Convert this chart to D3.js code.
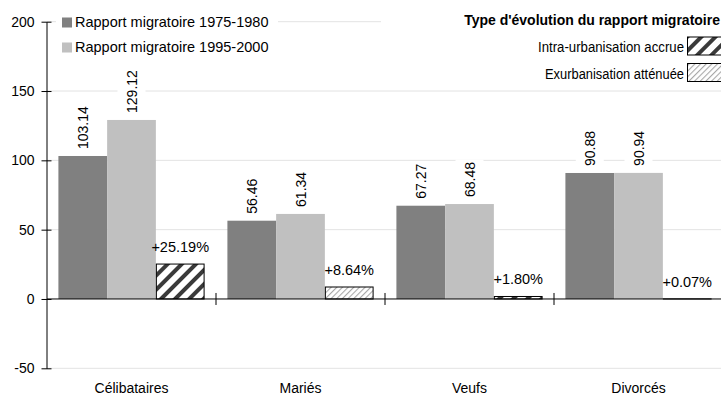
<!DOCTYPE html>
<html>
<head>
<meta charset="utf-8">
<script src="https://cdn.jsdelivr.net/npm/d3@7/dist/d3.min.js"></script>
<style>
  html, body { margin: 0; padding: 0; background: #fff; }
  svg { display: block; font-family: "Liberation Sans", Arial, sans-serif; }
</style>
</head>
<body>
<svg id="chart" width="721" height="396"></svg>
<script>
// Marital status groups
const categories = ["Célibataires", "Mariés", "Veufs", "Divorcés"];
// Migration ratio per period
const ratio1975 = [103.14, 56.46, 67.27, 90.88];
const ratio1995 = [129.12, 61.34, 68.48, 90.94];
// Change between the two periods (%)
const evolution = [25.19, 8.64, 1.80, 0.07];
// Type of change for each group
const evolutionType = ["accrue", "attenuee", "accrue", "attenuee"];
const evolutionTypeLabels = ["Intra-urbanisation accrue", "Exurbanisation atténuée"];
const seriesLabels = ["Rapport migratoire 1975-1980", "Rapport migratoire 1995-2000"];
const yTicks = [-50, 0, 50, 100, 150, 200];

const svg = d3.select("#chart");
const W = 721;
const plotLeft = 47, plotRight = 723;

const y = d3.scaleLinear().domain([-50, 200]).range([368.3, 21.7]);
const x = d3.scaleBand().domain(categories).range([plotLeft, plotRight]);
const xs = d3.scaleBand().domain(["s1", "s2", "ev"]).range([0, x.bandwidth()])
  .paddingInner(0).paddingOuter(0.234);

const DARK = "#808080", LIGHT = "#c0c0c0";

// hatch patterns
const defs = svg.append("defs");
const pA = defs.append("pattern").attr("id", "hatchA")
  .attr("patternUnits", "userSpaceOnUse").attr("width", 10).attr("height", 10)
  .attr("patternTransform", "rotate(45)");
pA.append("rect").attr("width", 10).attr("height", 10).attr("fill", "#fff");
pA.append("rect").attr("x", 0).attr("width", 4).attr("height", 10).attr("fill", "#3a3a3a");
const pB = defs.append("pattern").attr("id", "hatchB")
  .attr("patternUnits", "userSpaceOnUse").attr("width", 4).attr("height", 4)
  .attr("patternTransform", "rotate(45)");
pB.append("rect").attr("width", 4).attr("height", 4).attr("fill", "#fff");
pB.append("rect").attr("x", 0).attr("width", 1.1).attr("height", 4).attr("fill", "#a8a8a8");
const fillFor = t => t === "accrue" ? "url(#hatchA)" : "url(#hatchB)";

// gridlines
svg.append("g").selectAll("line").data(yTicks.filter(v => v !== 0)).join("line")
  .attr("x1", plotLeft).attr("x2", W)
  .attr("y1", d => y(d)).attr("y2", d => y(d))
  .attr("stroke", "#e3e3e3").attr("stroke-width", 1);

// bars
const groups = svg.append("g").selectAll("g").data(categories).join("g")
  .attr("transform", d => `translate(${x(d)},0)`);

groups.append("rect")
  .attr("x", xs("s1")).attr("width", xs.bandwidth())
  .attr("y", (d, i) => y(ratio1975[i])).attr("height", (d, i) => y(0) - y(ratio1975[i]))
  .attr("fill", DARK);
groups.append("rect")
  .attr("x", xs("s2")).attr("width", xs.bandwidth())
  .attr("y", (d, i) => y(ratio1995[i])).attr("height", (d, i) => y(0) - y(ratio1995[i]))
  .attr("fill", LIGHT);
groups.append("rect")
  .attr("x", xs("ev") + 0.5).attr("width", xs.bandwidth() - 1)
  .attr("y", (d, i) => y(evolution[i])).attr("height", (d, i) => y(0) - y(evolution[i]))
  .attr("fill", (d, i) => fillFor(evolutionType[i]))
  .attr("stroke", "#000").attr("stroke-width", 1);

// rotated value labels with white boxes
function rotatedLabel(g, cx, val) {
  const top = y(val);
  const lg = g.append("g").attr("transform", `translate(${cx},${top - 7}) rotate(-90)`);
  const t = lg.append("text").attr("x", 0).attr("y", 0)
    .attr("dominant-baseline", "central").attr("text-anchor", "start")
    .attr("font-size", 14).attr("fill", "#000").text(val.toFixed(2));
  const bb = t.node().getBBox();
  lg.insert("rect", "text").attr("x", bb.x - 2).attr("y", bb.y - 6)
    .attr("width", bb.width + 4).attr("height", bb.height + 12).attr("fill", "#fff");
}
const labelLayer = svg.append("g");
categories.forEach((c, i) => {
  rotatedLabel(labelLayer, x(c) + xs("s1") + xs.bandwidth() / 2, ratio1975[i]);
  rotatedLabel(labelLayer, x(c) + xs("s2") + xs.bandwidth() / 2, ratio1995[i]);
  labelLayer.append("text")
    .attr("x", x(c) + xs("ev") + xs.bandwidth() / 2)
    .attr("y", y(evolution[i]) - 12)
    .attr("text-anchor", "middle").attr("font-size", 14.5)
    .text("+" + evolution[i].toFixed(2) + "%");
});

// x axis line with cross ticks at group boundaries
svg.append("line").attr("x1", plotLeft).attr("x2", W)
  .attr("y1", y(0)).attr("y2", y(0)).attr("stroke", "#000");
svg.append("g").selectAll("line").data(categories.slice(1)).join("line")
  .attr("x1", d => x(d)).attr("x2", d => x(d))
  .attr("y1", y(0) - 6).attr("y2", y(0) + 6).attr("stroke", "#000");

// category labels
const xAxis = svg.append("g").attr("transform", `translate(0,${y(0)})`)
  .call(d3.axisBottom(x).tickSize(0));
xAxis.select(".domain").remove();
xAxis.selectAll("text").attr("font-size", 14).attr("font-family", "Liberation Sans, Arial, sans-serif")
  .attr("fill", "#000").attr("y", 84.5).attr("dy", "0.71em");

// y axis
const yAxis = svg.append("g").attr("transform", `translate(${plotLeft - 0.5},0)`)
  .call(d3.axisLeft(y).tickValues(yTicks).tickFormat(d => String(d))
    .tickSize(5).tickPadding(7).tickSizeOuter(0));
yAxis.select(".domain").attr("stroke", "#000");
yAxis.selectAll(".tick line").attr("x1", -5).attr("x2", 5).attr("stroke", "#000");
yAxis.selectAll("text").attr("font-size", 14).attr("font-family", "Liberation Sans, Arial, sans-serif")
  .attr("fill", "#000");

// left legend
const legL = svg.append("g");
legL.append("rect").attr("x", 56).attr("y", 4).attr("width", 222).attr("height", 52).attr("fill", "#fff");
[DARK, LIGHT].forEach((col, i) => {
  legL.append("rect").attr("x", 62).attr("y", 17.5 + i * 25).attr("width", 10).attr("height", 10).attr("fill", col);
  legL.append("text").attr("x", 75).attr("y", 27 + i * 25).attr("font-size", 14.5).text(seriesLabels[i]);
});

// right legend
const legR = svg.append("g");
legR.append("rect").attr("x", 381).attr("y", 4).attr("width", 340).attr("height", 80).attr("fill", "#fff");
legR.append("text").attr("x", 720).attr("y", 25).attr("text-anchor", "end")
  .attr("font-size", 14).attr("font-weight", "bold").text("Type d'évolution du rapport migratoire");
["accrue", "attenuee"].forEach((t, i) => {
  legR.append("rect").attr("x", 687.5).attr("y", 37 + i * 26.5).attr("width", 35).attr("height", 18)
    .attr("fill", fillFor(t)).attr("stroke", "#000");
  legR.append("text").attr("x", 684).attr("y", 52 + i * 26.5).attr("text-anchor", "end")
    .attr("font-size", 14).attr("textLength", i === 0 ? 146 : 139).attr("lengthAdjust", "spacingAndGlyphs")
    .text(evolutionTypeLabels[i]);
});
</script>
</body>
</html>
